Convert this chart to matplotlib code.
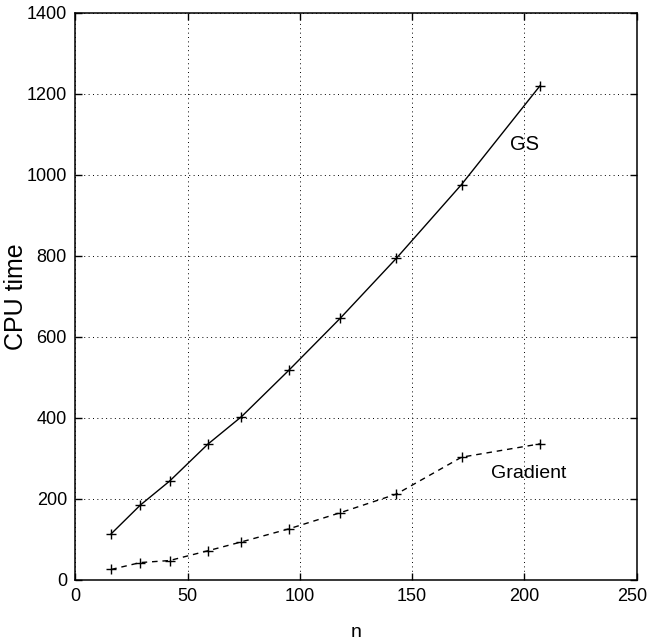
import matplotlib
matplotlib.use("Agg")
from matplotlib import pyplot as plt
from matplotlib.transforms import ScaledTranslation

n = [16, 29, 42, 59, 74, 95, 118, 143, 172, 207]
gs = [114, 185, 244, 335, 403, 517, 646, 794, 976, 1220]
grad = [26, 43, 48, 72, 94, 126, 166, 212, 303, 336]

plt.rcParams["font.family"] = ["Liberation Sans", "DejaVu Sans"]

fig = plt.figure(figsize=(6.5, 6.42), dpi=100)
ax = fig.add_axes([0.1158, 0.0966, 0.8637, 0.8836])

ax.plot(n, gs, color="k", linewidth=1.0, marker="+", markersize=7, markeredgewidth=1.0)
ax.plot(n, grad, color="k", linewidth=1.0, linestyle=(0, (4, 3.5)),
        marker="+", markersize=7, markeredgewidth=1.0)

ax.text(200, 1074, "GS", ha="center", va="center", fontsize=14.5)
ax.text(202, 262, "Gradient", ha="center", va="center", fontsize=14)

ax.set_xlim(0, 250)
ax.set_ylim(0, 1400)
ax.set_xticks([0, 50, 100, 150, 200, 250])
ax.set_yticks([0, 200, 400, 600, 800, 1000, 1200, 1400])
ax.grid(True, color="k", linestyle=(0, (1, 3.5)), linewidth=0.7)
ax.tick_params(direction="in", top=True, right=True, length=5, width=1,
               labelsize=13, pad=6)
for s in ax.spines.values():
    s.set_linewidth(1.1)

# nudge the last x label so it stays inside the figure
last = ax.xaxis.get_major_ticks()[-1].label1
last.set_transform(last.get_transform() + ScaledTranslation(-3 / 72, 0, fig.dpi_scale_trans))

ax.set_xlabel("n", fontsize=14, va="baseline")
ax.xaxis.set_label_coords(0.5, -0.1)
ax.set_ylabel("CPU time", fontsize=18, va="center")
ax.yaxis.set_label_coords(-0.106, 0.5)

plt.savefig("out.png", dpi=100)
